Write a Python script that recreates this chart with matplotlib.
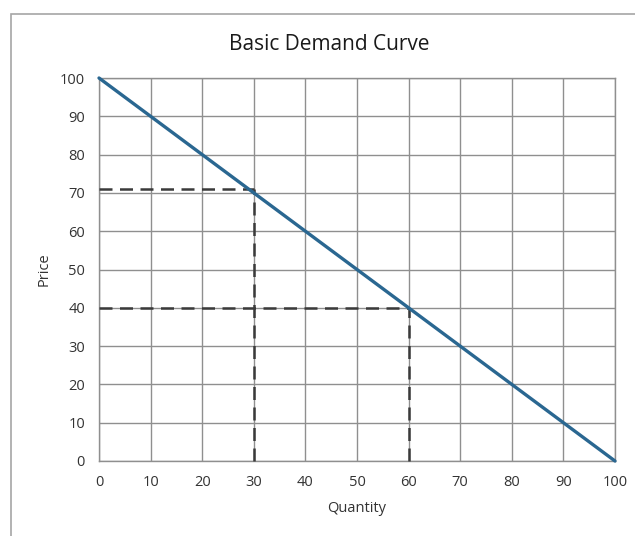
import numpy as np
import matplotlib
matplotlib.use('Agg')
import matplotlib.pyplot as plt
from matplotlib.patches import Rectangle

# demand line end points
quantity = [0, 100]
price = [100, 0]

# points marked with dashed guide lines
guide_q = [30, 60]
guide_p = [71, 40]

xticks = np.arange(0, 101, 10)
yticks = np.arange(0, 101, 10)

plt.rcParams['font.family'] = ['Open Sans', 'DejaVu Sans']

fig = plt.figure(figsize=(6.35, 5.36), dpi=100)
ax = fig.add_axes([99/635, 1 - 461/536, 516/635, 383/536])

grey = '#8f8f8f'
ax.set_xlim(0, 100)
ax.set_ylim(0, 100)
ax.set_xticks(xticks)
ax.set_yticks(yticks)
ax.grid(True, color=grey, lw=1.0)
ax.set_axisbelow(True)
for s in ax.spines.values():
    s.set_color(grey)
    s.set_linewidth(1.0)
ax.tick_params(length=0, labelsize=10.5, colors='#333333', pad=10)

# dashed guides
for q, p in zip(guide_q, guide_p):
    ax.plot([0, q], [p, p], color='#3a3a3a', lw=1.8, dashes=(5.2, 3.0), clip_on=False, zorder=3)
    ax.plot([q, q], [0, p], color='#3a3a3a', lw=1.8, dashes=(5.2, 3.0), clip_on=False, zorder=3)

ax.plot(quantity, price, color='#2a6791', lw=2.4, solid_capstyle='round', clip_on=False, zorder=4)

# title is centred on the chart area, not the plot area
ax.set_title('Basic Demand Curve', fontsize=15, color='#1a1a1a', pad=0,
             x=(329 - 99)/516, y=1 + 28/383)
ax.set_xlabel('Quantity', fontsize=10.5, color='#333333', va='center')
ax.xaxis.set_label_coords(0.5, -47/383)
ax.set_ylabel('Price', fontsize=10.5, color='#333333', va='center')
ax.yaxis.set_label_coords(-55/516, 0.5)

# chart border (cut off at the right and bottom)
fig.patches.append(Rectangle((11/635, -0.1), 1.2, 1 - 14/536 + 0.1, transform=fig.transFigure,
                             fill=False, edgecolor='#a6a6a6', lw=1.2))

fig.savefig('out.png', dpi=100)
